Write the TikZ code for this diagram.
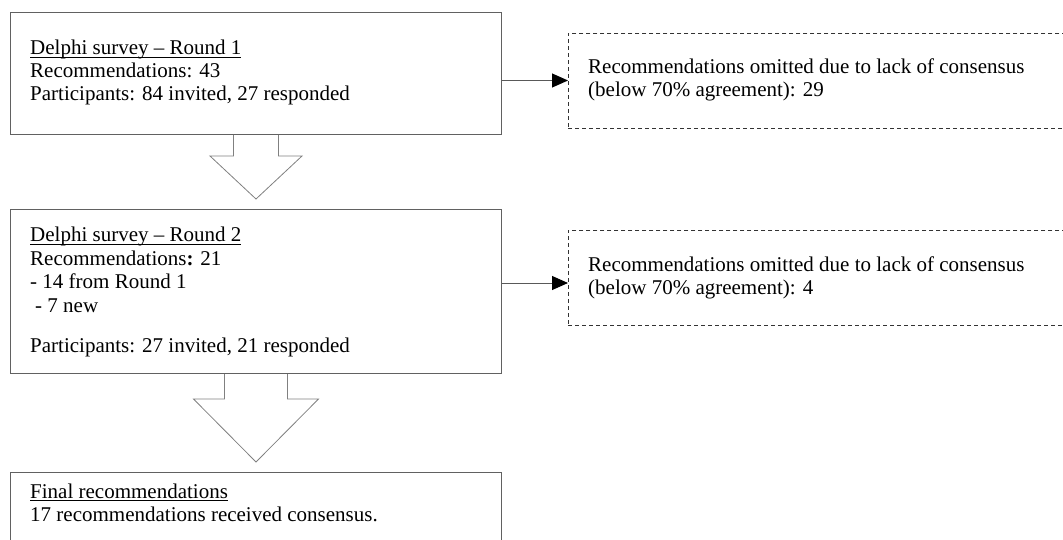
\documentclass[tikz,border=0pt]{standalone}
\usepackage{fontspec}
\setmainfont{Liberation Serif}
\usetikzlibrary{arrows.meta,calc}
\newcommand\myul[1]{\setbox0\hbox{#1}\rlap{\rule[-2.6pt]{\wd0}{1pt}}\box0}
\begin{document}
\begin{tikzpicture}[x=1pt,y=-1pt,
  box/.style={draw=black!62, line width=1pt, inner sep=0pt, anchor=north west},
  dbox/.style={draw=black!80, dash pattern=on 4pt off 3pt, line width=0.9pt, inner sep=0pt, anchor=north west},
  txt/.style={anchor=base west, inner sep=0pt, font=\fontsize{21}{23}\selectfont},
  blockarrow/.style={draw=black!50, line width=0.8pt},
  conn/.style={draw=black!65, line width=1pt, -{Triangle[length=16pt,width=14pt,color=black,fill=black]}}]
\useasboundingbox (0,0) rectangle (1063,540);
\clip (0,0) rectangle (1063,540);
% boxes
\node[box, minimum width=491pt, minimum height=122pt] (b1) at (10,12) {};
\node[box, minimum width=491pt, minimum height=164pt] (b2) at (10,209) {};
\node[box, minimum width=491pt, minimum height=90pt] (b3) at (10,472) {};
\node[dbox, minimum width=520pt, minimum height=95pt] (d1) at (568,33) {};
\node[dbox, minimum width=520pt, minimum height=95pt] (d2) at (568,230) {};
% texts
\node[txt] (t1) at (30,55) {\begin{tabular}[t]{@{}l@{}}\myul{Delphi survey – Round 1}\\ Recommendations: 43\\ Participants: 84 invited, 27 responded\end{tabular}};
\node[txt] (t2) at (30,242) {\begin{tabular}[t]{@{}l@{}}\myul{Delphi survey – Round 2}\\[0.5pt] Recommendations\textbf{:} 21\\[0.5pt] - 14 from Round 1\\[0.5pt] \hspace{5pt}- 7 new\\[17.5pt] Participants: 27 invited, 21 responded\end{tabular}};
\node[txt] (t3) at (30,498) {\begin{tabular}[t]{@{}l@{}}\myul{Final recommendations}\\ 17 recommendations received consensus.\end{tabular}};
\node[txt] (t4) at (588,74) {\begin{tabular}[t]{@{}l@{}}Recommendations omitted due to lack of consensus\\ (below 70\% agreement): 29\end{tabular}};
\node[txt] (t5) at (588,271) {\begin{tabular}[t]{@{}l@{}}Recommendations omitted due to lack of consensus\\ (below 70\% agreement): 4\end{tabular}};
% block arrows
\draw[blockarrow] ($(b1.south)+(-22.5,0)$) -- ++(0,21) -- ++(-23.5,0)
  -- ($(b2.north)+(0,-10)$) -- ($(b1.south)+(46,21)$) -- ++(-23.5,0) -- ($(b1.south)+(22.5,0)$);
\draw[blockarrow] ($(b2.south)+(-31.5,0)$) -- ++(0,25) -- ++(-31,0)
  -- ($(b3.north)+(0,-10)$) -- ($(b2.south)+(62.5,25)$) -- ++(-31,0) -- ($(b2.south)+(31.5,0)$);
% connectors
\draw[conn] ($(b1.north east)+(0,68.5)$) -- ($(d1.north west)+(0,47.5)$);
\draw[conn] ($(b2.north east)+(0,74)$) -- ($(d2.north west)+(0,53)$);
\end{tikzpicture}
\end{document}
